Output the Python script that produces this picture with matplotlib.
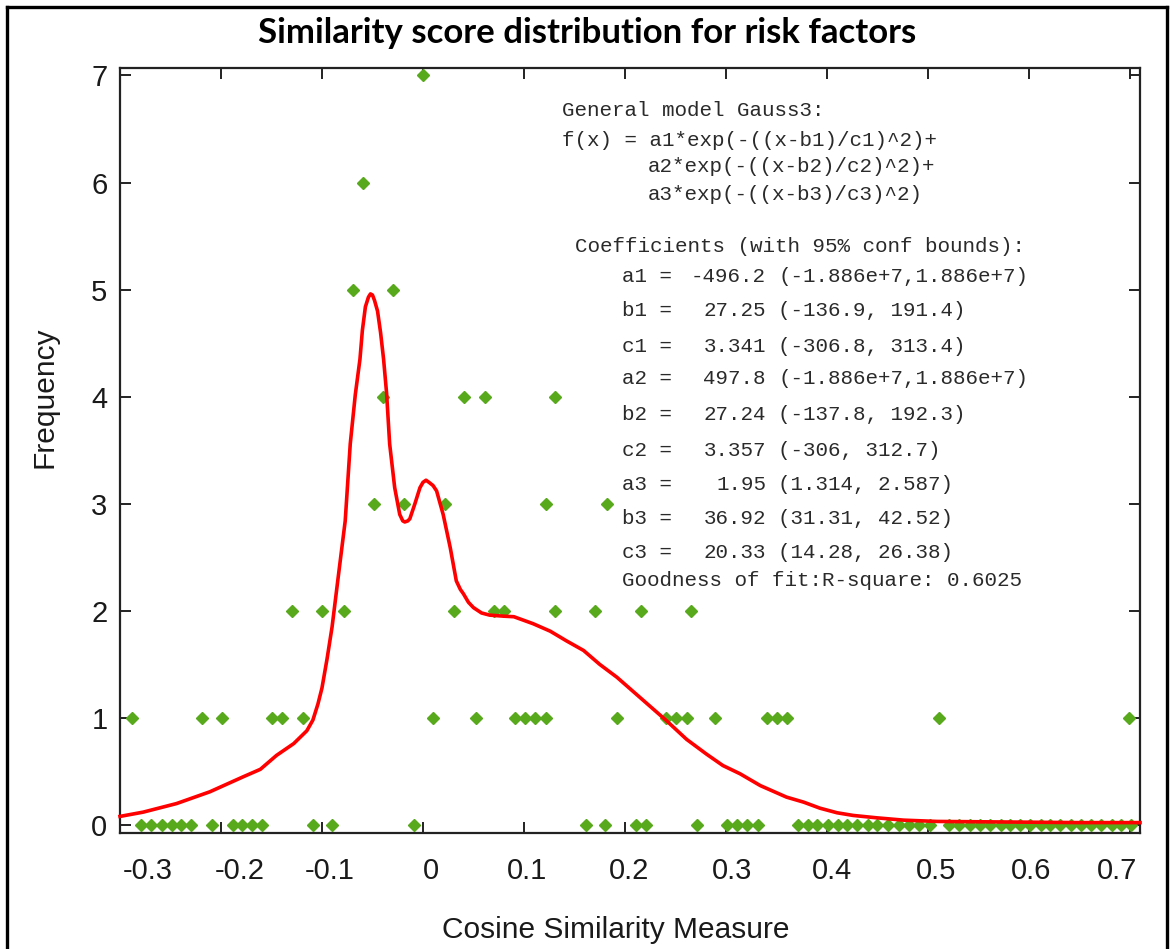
import matplotlib
matplotlib.use("Agg")
import matplotlib.pyplot as plt
import matplotlib.transforms as mtransforms
from matplotlib.lines import Line2D

# scatter points, grouped by frequency level
x_f0 = [-0.2795, -0.2696, -0.2587, -0.2488, -0.2396, -0.2300, -0.2086, -0.1884, -0.1789,
        -0.1693, -0.1597, -0.1092, -0.0904, -0.0089,
        0.1614, 0.1802, 0.2106, 0.2205, 0.2710, 0.3013, 0.3106, 0.3205, 0.3314,
        0.371, 0.381, 0.390, 0.401, 0.411, 0.420, 0.430, 0.441, 0.450, 0.460, 0.471,
        0.481, 0.491, 0.502, 0.521, 0.531, 0.542, 0.552, 0.561, 0.572, 0.581, 0.591,
        0.601, 0.612, 0.621, 0.631, 0.642, 0.652, 0.661, 0.671, 0.682, 0.691, 0.701]
x_f1 = [-0.2884, -0.2185, -0.1993, -0.1492, -0.1393, -0.1185, 0.0096,
        0.0522, 0.0911, 0.1010, 0.1106, 0.1218, 0.1918, 0.2406, 0.2505, 0.2611,
        0.2894, 0.3403, 0.3502, 0.3601, 0.5112, 0.6993]
x_f2 = [-0.130, -0.0997, -0.0785, 0.0310, 0.0706, 0.0802, 0.1310, 0.1706, 0.2161, 0.2650]
x_f3 = [-0.0485, -0.0185, 0.0218, 0.1215, 0.1819]
x_f4 = [-0.0393, 0.0406, 0.0614, 0.1310]
x_f5 = [-0.0693, -0.0297]
x_f6 = [-0.0597]
x_f7 = [0.0003]

# fitted Gauss3 curve
curve_x = [-0.300, -0.277, -0.244, -0.211, -0.178, -0.161, -0.145, -0.128, -0.115, -0.109,
           -0.104, -0.100, -0.095, -0.090, -0.084, -0.077, -0.072, -0.067, -0.0624, -0.060,
           -0.057, -0.054, -0.052, -0.050, -0.048, -0.045, -0.042, -0.039, -0.036, -0.033,
           -0.028, -0.023, -0.020, -0.018, -0.015, -0.013, -0.008, -0.003, 0.000, 0.003,
           0.006, 0.010, 0.0135, 0.020, 0.027, 0.033, 0.037, 0.040,
           0.045, 0.050, 0.058, 0.066, 0.080, 0.090, 0.109, 0.126, 0.142, 0.159, 0.175, 0.192, 0.215,
           0.241, 0.261, 0.281, 0.297, 0.314, 0.334, 0.360, 0.377, 0.393, 0.410,
           0.426, 0.449, 0.476, 0.509, 0.575, 0.650, 0.710]
curve_y = [0.08, 0.12, 0.20, 0.31, 0.45, 0.52, 0.65, 0.76, 0.88, 0.98,
           1.13, 1.28, 1.55, 1.85, 2.31, 2.84, 3.56, 4.02, 4.35, 4.62,
           4.84, 4.93, 4.96, 4.95, 4.90, 4.80, 4.60, 4.35, 4.03, 3.56,
           3.15, 2.90, 2.84, 2.83, 2.84, 2.86, 3.00, 3.15, 3.20, 3.22,
           3.20, 3.17, 3.12, 2.90, 2.59, 2.28, 2.20, 2.16,
           2.08, 2.03, 1.98, 1.96, 1.95, 1.945, 1.88, 1.81, 1.72, 1.63, 1.50, 1.38, 1.19,
           0.975, 0.80, 0.66, 0.555, 0.478, 0.368, 0.26, 0.213, 0.157, 0.114,
           0.089, 0.067, 0.045, 0.033, 0.028, 0.022, 0.022]

x_ticks = [-0.3, -0.2, -0.1, 0, 0.1, 0.2, 0.3, 0.4, 0.5, 0.6, 0.7]
x_tick_labels = ["-0.3", "-0.2", "-0.1", "0", "0.1", "0.2", "0.3", "0.4", "0.5", "0.6", "0.7"]
y_ticks = [0, 1, 2, 3, 4, 5, 6, 7]

title = "Similarity score distribution for risk factors"
model_lines = ["General model Gauss3:",
               "f(x) = a1*exp(-((x-b1)/c1)^2)+",
               "a2*exp(-((x-b2)/c2)^2)+",
               "a3*exp(-((x-b3)/c3)^2)"]
coef_names = ["a1", "b1", "c1", "a2", "b2", "c2", "a3", "b3", "c3"]
coef_values = ["-496.2", "27.25", "3.341", "497.8", "27.24", "3.357", "1.95", "36.92", "20.33"]
coef_bounds = ["(-1.886e+7,1.886e+7)", "(-136.9, 191.4)", "(-306.8, 313.4)",
               "(-1.886e+7,1.886e+7)", "(-137.8, 192.3)", "(-306, 312.7)",
               "(1.314, 2.587)", "(31.31, 42.52)", "(14.28, 26.38)"]

W, H = 1170, 949
fig = plt.figure(figsize=(W / 100, H / 100), dpi=100)
ax = fig.add_axes([120 / W, 1 - 833 / H, 1020 / W, 765 / H])

green = "#58a91c"
levels = [x_f0, x_f1, x_f2, x_f3, x_f4, x_f5, x_f6, x_f7]
for lvl, xs in enumerate(levels):
    ax.plot(xs, [lvl] * len(xs), linestyle="none", marker="D", ms=6.3,
            color=green, mec=green, zorder=3)
ax.plot(curve_x, curve_y, color="#ff0000", lw=2.6, zorder=4, clip_on=False)

ax.set_xlim(-0.3, 0.71)
ax.set_ylim(-0.075, 7.07)
ax.set_xticks(x_ticks)
ax.set_xticklabels(x_tick_labels)
ax.set_yticks(y_ticks)
for s in ax.spines.values():
    s.set_linewidth(1.6)
    s.set_color("#222222")
ax.tick_params(direction="in", length=8, width=1.4, top=True, right=True,
               labelsize=21, labelcolor="#1a1a1a", color="#222222")
ax.tick_params(axis="x", pad=17)
ax.tick_params(axis="y", pad=9)
for lab in ax.get_xticklabels() + ax.get_yticklabels():
    lab.set_family("Liberation Sans")

# the x labels in the source sit a little off their ticks
label_shift = [28, 19, 8, 8, 3, 4, 6, 5, 8, 2, -13]
for tick, dx in zip(ax.xaxis.get_major_ticks(), label_shift):
    off = mtransforms.ScaledTranslation(dx / 100, 0, fig.dpi_scale_trans)
    tick.label1.set_transform(tick.label1.get_transform() + off)

ax.set_xlabel("Cosine Similarity Measure", fontsize=21.5, family="Liberation Sans",
              color="#1a1a1a")
ax.set_ylabel("Frequency", fontsize=21.5, family="Liberation Sans", color="#1a1a1a")
ax.xaxis.set_label_coords(0.486, -0.108)
ax.yaxis.set_label_coords(-0.060, 0.57)

fig.text(587 / W, 1 - 33 / H, title, ha="center", va="center", fontsize=25,
         fontweight="bold", family="Lato", color="black")

# fit report in the upper right
mono = dict(family="Liberation Mono", fontsize=15, color="#2a2a2a", va="center")
def px(x, y):
    return x / W, 1 - y / H

fig.text(*px(562, 111), model_lines[0], **mono)
fig.text(*px(562, 140), model_lines[1], **mono)
fig.text(*px(648, 167), model_lines[2], **mono)
fig.text(*px(648, 194), model_lines[3], **mono)
fig.text(*px(575, 246), "Coefficients (with 95% conf bounds):", **mono)
coef_y = [276, 311, 347, 379, 415, 450, 484, 519, 553]
for name, val, bnd, yy in zip(coef_names, coef_values, coef_bounds, coef_y):
    fig.text(*px(622, yy), name + " =", **mono)
    fig.text(*px(766, yy), val, ha="right", **mono)
    fig.text(*px(778, yy), bnd, **mono)
fig.text(*px(622, 581), "Goodness of fit:R-square: 0.6025", **mono)

# frame around the whole picture
for xs, ys in [([7, 7], [7, 960]), ([7, 1167], [7, 7]), ([1167, 1167], [7, 960])]:
    fig.add_artist(Line2D([x / W for x in xs], [1 - y / H for y in ys],
                          color="black", lw=2.4, transform=fig.transFigure))

fig.savefig("out.png", dpi=100)
